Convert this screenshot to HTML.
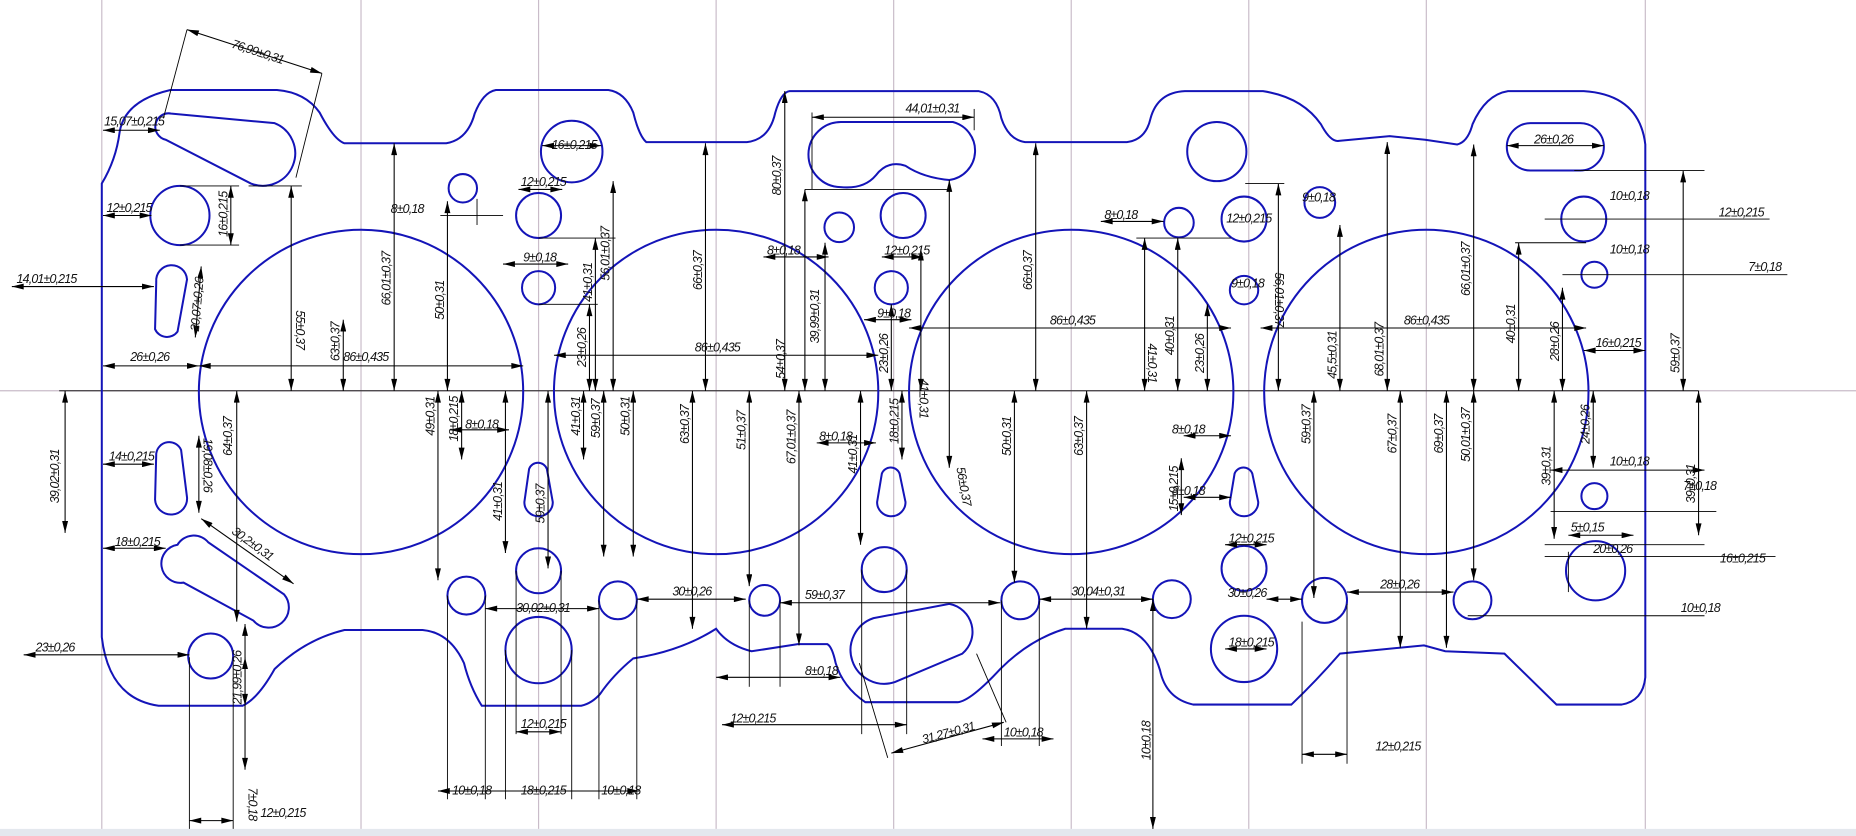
<!DOCTYPE html>
<html><head><meta charset="utf-8"><style>
html,body{margin:0;padding:0;background:#fff;}
svg{display:block;}
.g{stroke:#c9bcc9;stroke-width:1;}
.b{fill:none;stroke:#1414b8;stroke-width:1.7;}
.d{stroke:#000;stroke-width:0.9;marker-start:url(#a);marker-end:url(#a);}
.e{stroke:#000;stroke-width:0.75;}
text{font-family:"Liberation Sans",sans-serif;font-size:10.5px;font-style:italic;fill:#111;letter-spacing:-0.7px;}
</style></head><body>
<svg width="1856" height="836" viewBox="0 0 1568 706" preserveAspectRatio="none" xmlns="http://www.w3.org/2000/svg">
<defs><marker id="a" viewBox="0 0 12 6" refX="12" refY="3" markerWidth="12" markerHeight="5" orient="auto-start-reverse" markerUnits="userSpaceOnUse"><path d="M0,0 L12,3 L0,6 Z" fill="#000"/></marker></defs>
<rect width="1568" height="706" fill="#fff"/>
<rect x="0" y="700" width="1568" height="6" fill="#e4e8ee"/>
<g class="g">
<line x1="86" y1="0" x2="86" y2="700"/><line x1="305" y1="0" x2="305" y2="700"/><line x1="455" y1="0" x2="455" y2="700"/><line x1="605" y1="0" x2="605" y2="700"/><line x1="755" y1="0" x2="755" y2="700"/><line x1="905" y1="0" x2="905" y2="700"/><line x1="1055" y1="0" x2="1055" y2="700"/><line x1="1205" y1="0" x2="1205" y2="700"/><line x1="1390" y1="0" x2="1390" y2="700"/>
<line x1="0" y1="330" x2="1568" y2="330"/>
</g>
<line class="e" x1="50" y1="330" x2="1435" y2="330"/>
<path class="b" d="M86,538 L86,155 Q98,135 101,112 Q105,85 144,76 L234,76 Q258,78 270,95 Q282,118 291,121 L377,121 Q395,118 401,96 Q408,78 419,76 L514,76 Q528,78 535,95 Q540,115 546,120 L631,120 Q650,118 655,95 Q660,78 667,77 L827,77 Q842,80 846,100 Q852,118 866,120 L952,120 Q968,118 972,100 Q978,78 1001,77 L1067,77 Q1100,82 1116,105 Q1124,120 1131,119 L1174,115 L1204,118 L1231,122 Q1240,120 1244,105 Q1255,80 1274,77 L1338,77 Q1385,80 1390,122 L1390,572 Q1388,592 1370,595 L1315,595 L1271,552 L1221,550 L1203,545 L1132,552 Q1112,575 1091,595 L1008,595 Q985,590 980,566 Q970,534 948,531 L900,531 Q870,540 845,565 Q820,592 809,593 L731,593 Q712,580 706,560 Q703,546 699,544 L674,544 L635,550 Q615,545 605,531 Q575,550 535,556 Q518,570 507,586 Q500,594 491,596 L407,596 Q397,580 392,560 Q380,534 357,532 L291,532 Q258,540 232,565 Q218,590 205,596 L134,596 Q92,590 86,538 Z"/>
<g class="b">
<circle cx="305" cy="331" r="137"/><circle cx="605" cy="331" r="137"/><circle cx="905" cy="331" r="137"/><circle cx="1205" cy="331" r="137"/>
<path d="M145,96 L232,104 A26,26 0 0 1 212,155 L140,118 A11,11 0 0 1 145,96 Z"/>
<circle cx="152" cy="182" r="25"/>
<path d="M132,238 A13,13 0 0 1 158,236 L150,280 A11,11 0 0 1 131,278 Z"/>
<path d="M132,383 A11,11 0 0 1 153,380 L158,420 A13,13 0 0 1 131,422 Z"/>
<path d="M150,460 A16,16 0 0 1 176,458 L240,502 A15,15 0 0 1 214,524 L155,492 A16,16 0 0 1 150,460 Z"/>
<circle cx="178" cy="554" r="19"/>
<circle cx="391" cy="159" r="12"/><circle cx="483" cy="128" r="26"/><circle cx="455" cy="182" r="19"/><circle cx="455" cy="243" r="14"/>
<path d="M447,396 A8,8 0 0 1 462,396 L467,424 A12,12 0 0 1 443,424 Z"/>
<circle cx="455" cy="482" r="19"/><circle cx="455" cy="549" r="28"/><circle cx="394" cy="503" r="16"/><circle cx="522" cy="507" r="16"/>
<path d="M711,103 L805,103 A25,25 0 0 1 802,152 Q780,150 765,140 Q750,135 740,148 Q730,160 710,158 A27,27 0 0 1 711,103 Z"/>
<circle cx="709" cy="192" r="12.5"/><circle cx="763" cy="182" r="19"/><circle cx="753" cy="243" r="14"/>
<path d="M745,400 A8,8 0 0 1 760,400 L765,424 A12,12 0 0 1 741,424 Z"/>
<circle cx="747" cy="481" r="19"/><circle cx="646" cy="507" r="13"/>
<path d="M738,522 L802,510 A24,24 0 0 1 813,552 L756,576 A26,26 0 0 1 738,522 Z"/>
<circle cx="862" cy="507" r="16"/>
<circle cx="996" cy="188" r="12.5"/><circle cx="1051" cy="185" r="19"/><circle cx="1051" cy="245" r="12"/><circle cx="1028" cy="128" r="25"/>
<path d="M1043,400 A8,8 0 0 1 1058,400 L1063,424 A12,12 0 0 1 1039,424 Z"/>
<circle cx="1051" cy="480" r="19"/><circle cx="990" cy="506" r="16"/><circle cx="1051" cy="548" r="28"/>
<circle cx="1115" cy="171" r="13"/><circle cx="1119" cy="507" r="19"/><circle cx="1244" cy="507" r="16"/>
<path d="M1293,104 L1335,104 A20,20 0 0 1 1335,144 L1293,144 A20,20 0 0 1 1293,104 Z"/>
<circle cx="1338" cy="185" r="19"/><circle cx="1347" cy="232" r="11"/><circle cx="1347" cy="419" r="11"/><circle cx="1348" cy="482" r="25"/>
</g>
<g class="e">
<line x1="158" y1="25" x2="138" y2="100"/><line x1="272" y1="62" x2="250" y2="150"/>
<line x1="210" y1="157" x2="255" y2="157"/><line x1="152" y1="157" x2="202" y2="157"/><line x1="152" y1="207" x2="202" y2="207"/>
<line x1="372" y1="182" x2="425" y2="182"/><line x1="403" y1="168" x2="403" y2="190"/>
<line x1="455" y1="201" x2="520" y2="201"/><line x1="455" y1="257" x2="505" y2="257"/>
<line x1="680" y1="160" x2="800" y2="160"/><line x1="686" y1="95" x2="686" y2="160"/><line x1="823" y1="92" x2="823" y2="110"/>
<line x1="960" y1="201" x2="1040" y2="201"/><line x1="1052" y1="155" x2="1085" y2="155"/>
<line x1="1280" y1="205" x2="1340" y2="205"/><line x1="1330" y1="144" x2="1440" y2="144"/>
<line x1="1305" y1="460" x2="1440" y2="460"/><line x1="1100" y1="525" x2="1100" y2="645"/><line x1="1138" y1="510" x2="1138" y2="645"/>
<line x1="160" y1="555" x2="160" y2="700"/><line x1="197" y1="555" x2="197" y2="700"/>
<line x1="378" y1="503" x2="378" y2="675"/><line x1="410" y1="503" x2="410" y2="675"/><line x1="427" y1="549" x2="427" y2="675"/><line x1="483" y1="549" x2="483" y2="675"/><line x1="506" y1="507" x2="506" y2="675"/><line x1="538" y1="507" x2="538" y2="675"/>
<line x1="436" y1="482" x2="436" y2="620"/><line x1="474" y1="482" x2="474" y2="620"/>
<line x1="728" y1="481" x2="728" y2="620"/><line x1="766" y1="481" x2="766" y2="620"/>
<line x1="633" y1="507" x2="633" y2="580"/><line x1="659" y1="507" x2="659" y2="580"/>
<line x1="846" y1="507" x2="846" y2="630"/><line x1="878" y1="507" x2="878" y2="630"/>
<line x1="726" y1="560" x2="750" y2="640"/><line x1="825" y1="552" x2="850" y2="610"/>
<line x1="1325" y1="466" x2="1325" y2="500"/>
<line x1="1240" y1="520" x2="1440" y2="520"/><line x1="1305" y1="470" x2="1500" y2="470"/><line x1="1310" y1="432" x2="1450" y2="432"/>
<line x1="1305" y1="185" x2="1495" y2="185"/><line x1="1320" y1="232" x2="1510" y2="232"/>
</g>
<g class="d">
<line x1="158" y1="25" x2="272" y2="62"/>
<line x1="87" y1="110" x2="135" y2="110"/><line x1="87" y1="182" x2="128" y2="182"/>
<line x1="195" y1="157" x2="195" y2="207"/><line x1="10" y1="242" x2="130" y2="242"/>
<line x1="170" y1="225" x2="165" y2="285"/>
<line x1="87" y1="309" x2="168" y2="309"/><line x1="168" y1="309" x2="442" y2="309"/>
<line x1="246" y1="157" x2="246" y2="330"/><line x1="290" y1="270" x2="290" y2="330"/>
<line x1="333" y1="121" x2="333" y2="330"/><line x1="378" y1="170" x2="378" y2="330"/>
<line x1="438" y1="160" x2="475" y2="160"/><line x1="458" y1="123" x2="508" y2="123"/>
<line x1="518" y1="153" x2="518" y2="330"/><line x1="425" y1="223" x2="480" y2="223"/>
<line x1="503" y1="201" x2="503" y2="330"/><line x1="498" y1="257" x2="498" y2="330"/>
<line x1="468" y1="300" x2="742" y2="300"/><line x1="596" y1="121" x2="596" y2="330"/>
<line x1="663" y1="77" x2="663" y2="330"/><line x1="686" y1="99" x2="823" y2="99"/>
<line x1="645" y1="217" x2="700" y2="217"/><line x1="697" y1="205" x2="697" y2="330"/><line x1="680" y1="160" x2="680" y2="330"/>
<line x1="745" y1="217" x2="780" y2="217"/><line x1="730" y1="270" x2="770" y2="270"/>
<line x1="753" y1="257" x2="753" y2="330"/><line x1="778" y1="210" x2="778" y2="330"/><line x1="802" y1="152" x2="802" y2="395"/>
<line x1="768" y1="277" x2="1040" y2="277"/><line x1="875" y1="121" x2="875" y2="330"/>
<line x1="930" y1="187" x2="983" y2="187"/><line x1="1080" y1="155" x2="1080" y2="330"/>
<line x1="967" y1="201" x2="967" y2="330"/><line x1="995" y1="201" x2="995" y2="330"/><line x1="1020" y1="257" x2="1020" y2="330"/>
<line x1="1065" y1="277" x2="1340" y2="277"/><line x1="1132" y1="190" x2="1132" y2="330"/>
<line x1="1172" y1="120" x2="1172" y2="330"/><line x1="1245" y1="122" x2="1245" y2="330"/>
<line x1="1283" y1="205" x2="1283" y2="330"/><line x1="1320" y1="243" x2="1320" y2="330"/>
<line x1="1273" y1="123" x2="1355" y2="123"/><line x1="1338" y1="296" x2="1390" y2="296"/>
<line x1="1422" y1="144" x2="1422" y2="330"/>
<line x1="55" y1="330" x2="55" y2="450"/><line x1="200" y1="330" x2="200" y2="525"/>
<line x1="87" y1="392" x2="130" y2="392"/><line x1="168" y1="368" x2="168" y2="433"/>
<line x1="87" y1="463" x2="140" y2="463"/><line x1="170" y1="438" x2="248" y2="493"/>
<line x1="20" y1="553" x2="160" y2="553"/><line x1="207" y1="527" x2="207" y2="596"/>
<line x1="207" y1="555" x2="207" y2="650"/><line x1="160" y1="693" x2="197" y2="693"/>
<line x1="370" y1="330" x2="370" y2="490"/><line x1="390" y1="330" x2="390" y2="388"/>
<line x1="380" y1="363" x2="430" y2="363"/><line x1="427" y1="330" x2="427" y2="467"/>
<line x1="463" y1="330" x2="463" y2="480"/><line x1="493" y1="330" x2="493" y2="388"/>
<line x1="510" y1="330" x2="510" y2="470"/><line x1="535" y1="330" x2="535" y2="470"/>
<line x1="410" y1="514" x2="506" y2="514"/><line x1="436" y1="618" x2="474" y2="618"/>
<line x1="370" y1="668" x2="540" y2="668"/>
<line x1="585" y1="330" x2="585" y2="531"/><line x1="633" y1="330" x2="633" y2="495"/><line x1="675" y1="330" x2="675" y2="545"/>
<line x1="690" y1="374" x2="740" y2="374"/><line x1="762" y1="330" x2="762" y2="388"/><line x1="727" y1="330" x2="727" y2="460"/>
<line x1="538" y1="506" x2="630" y2="506"/><line x1="659" y1="509" x2="845" y2="509"/>
<line x1="605" y1="572" x2="710" y2="572"/><line x1="610" y1="612" x2="766" y2="612"/>
<line x1="753" y1="636" x2="848" y2="610"/><line x1="830" y1="624" x2="890" y2="624"/>
<line x1="857" y1="330" x2="857" y2="492"/><line x1="918" y1="330" x2="918" y2="531"/>
<line x1="878" y1="506" x2="974" y2="506"/><line x1="974" y1="506" x2="974" y2="700"/>
<line x1="1000" y1="368" x2="1040" y2="368"/><line x1="1000" y1="420" x2="1040" y2="420"/><line x1="998" y1="387" x2="998" y2="435"/>
<line x1="1035" y1="460" x2="1070" y2="460"/><line x1="1070" y1="506" x2="1100" y2="506"/><line x1="1035" y1="548" x2="1070" y2="548"/>
<line x1="1110" y1="330" x2="1110" y2="505"/><line x1="1183" y1="330" x2="1183" y2="547"/><line x1="1222" y1="330" x2="1222" y2="547"/>
<line x1="1245" y1="330" x2="1245" y2="490"/><line x1="1138" y1="500" x2="1228" y2="500"/><line x1="1100" y1="637" x2="1138" y2="637"/>
<line x1="1313" y1="330" x2="1313" y2="455"/><line x1="1346" y1="330" x2="1346" y2="395"/>
<line x1="1310" y1="397" x2="1440" y2="397"/><line x1="1435" y1="330" x2="1435" y2="452"/>
<line x1="1325" y1="452" x2="1380" y2="452"/>
</g>
<g>
<text transform="translate(195,40) rotate(18)">76,99±0,31</text>
<text x="88" y="106">15,07±0,215</text>
<text x="90" y="179">12±0,215</text>
<text transform="translate(192,200) rotate(-90)">16±0,215</text>
<text x="14" y="239">14,01±0,215</text>
<text transform="translate(168,280) rotate(-85)">20,07±0,26</text>
<text x="110" y="305">26±0,26</text>
<text transform="translate(250,262) rotate(90)">55±0,37</text>
<text transform="translate(287,305) rotate(-90)">63±0,37</text>
<text x="290" y="305">86±0,435</text>
<text transform="translate(330,258) rotate(-90)">66,01±0,37</text>
<text transform="translate(375,270) rotate(-90)">50±0,31</text>
<text x="330" y="180">8±0,18</text>
<text x="440" y="157">12±0,215</text>
<text x="466" y="126">16±0,215</text>
<text transform="translate(515,237) rotate(-90)">56,01±0,37</text>
<text x="442" y="221">9±0,18</text>
<text transform="translate(500,255) rotate(-90)">41±0,31</text>
<text transform="translate(495,310) rotate(-90)">23±0,26</text>
<text x="587" y="297">86±0,435</text>
<text transform="translate(593,245) rotate(-90)">66±0,37</text>
<text transform="translate(660,165) rotate(-90)">80±0,37</text>
<text x="765" y="95">44,01±0,31</text>
<text x="648" y="215">8±0,18</text>
<text transform="translate(692,290) rotate(-90)">39,99±0,31</text>
<text transform="translate(663,320) rotate(-90)">54±0,37</text>
<text x="747" y="215">12±0,215</text>
<text x="741" y="268">9±0,18</text>
<text transform="translate(750,315) rotate(-90)">23±0,26</text>
<text transform="translate(777,320) rotate(90)">41±0,31</text>
<text x="887" y="274">86±0,435</text>
<text transform="translate(872,245) rotate(-90)">66±0,37</text>
<text x="933" y="185">8±0,18</text>
<text x="1036" y="188">12±0,215</text>
<text x="1040" y="243">9±0,18</text>
<text x="1100" y="170">9±0,18</text>
<text transform="translate(1077,230) rotate(90)">56,01±0,37</text>
<text transform="translate(970,290) rotate(90)">41±0,31</text>
<text transform="translate(992,300) rotate(-90)">40±0,31</text>
<text transform="translate(1017,315) rotate(-90)">23±0,26</text>
<text x="1186" y="274">86±0,435</text>
<text transform="translate(1129,320) rotate(-90)">45,5±0,31</text>
<text transform="translate(1169,318) rotate(-90)">68,01±0,37</text>
<text transform="translate(1242,250) rotate(-90)">66,01±0,37</text>
<text transform="translate(1280,290) rotate(-90)">40±0,31</text>
<text transform="translate(1317,305) rotate(-90)">28±0,26</text>
<text x="1296" y="121">26±0,26</text>
<text x="1360" y="169">10±0,18</text>
<text x="1452" y="183">12±0,215</text>
<text x="1360" y="214">10±0,18</text>
<text x="1477" y="229">7±0,18</text>
<text x="1348" y="293">16±0,215</text>
<text transform="translate(1419,315) rotate(-90)">59±0,37</text>
<text transform="translate(50,425) rotate(-90)">39,02±0,31</text>
<text transform="translate(196,385) rotate(-90)">64±0,37</text>
<text x="92" y="389">14±0,215</text>
<text transform="translate(172,370) rotate(90)">19,08±0,26</text>
<text x="97" y="461">18±0,215</text>
<text transform="translate(195,450) rotate(36)">30,2±0,31</text>
<text x="30" y="550">23±0,26</text>
<text transform="translate(204,595) rotate(-90)">21,99±0,26</text>
<text transform="translate(210,665) rotate(90)">7±0,18</text>
<text x="220" y="690">12±0,215</text>
<text transform="translate(367,368) rotate(-90)">49±0,31</text>
<text transform="translate(387,373) rotate(-90)">18±0,215</text>
<text x="393" y="362">8±0,18</text>
<text transform="translate(424,440) rotate(-90)">41±0,31</text>
<text transform="translate(460,442) rotate(-90)">59±0,37</text>
<text transform="translate(490,368) rotate(-90)">41±0,31</text>
<text transform="translate(507,370) rotate(-90)">59±0,37</text>
<text transform="translate(532,368) rotate(-90)">50±0,31</text>
<text x="436" y="517">30,02±0,31</text>
<text x="440" y="615">12±0,215</text>
<text x="382" y="671">10±0,18</text>
<text x="440" y="671">18±0,215</text>
<text x="508" y="671">10±0,18</text>
<text transform="translate(582,375) rotate(-90)">63±0,37</text>
<text transform="translate(630,380) rotate(-90)">51±0,37</text>
<text transform="translate(672,392) rotate(-90)">67,01±0,37</text>
<text x="692" y="372">8±0,18</text>
<text transform="translate(759,375) rotate(-90)">18±0,215</text>
<text transform="translate(724,400) rotate(-90)">41±0,31</text>
<text x="568" y="503">30±0,26</text>
<text x="680" y="506">59±0,37</text>
<text x="680" y="570">8±0,18</text>
<text x="617" y="610">12±0,215</text>
<text transform="translate(780,628) rotate(-15)">31,27±0,31</text>
<text x="848" y="622">10±0,18</text>
<text transform="translate(808,395) rotate(80)">56±0,37</text>
<text transform="translate(854,385) rotate(-90)">50±0,31</text>
<text transform="translate(915,385) rotate(-90)">63±0,37</text>
<text x="905" y="503">30,04±0,31</text>
<text transform="translate(972,642) rotate(-90)">10±0,18</text>
<text x="990" y="366">8±0,18</text>
<text x="990" y="418">8±0,18</text>
<text transform="translate(995,432) rotate(-90)">15±0,215</text>
<text x="1038" y="458">12±0,215</text>
<text x="1037" y="504">30±0,26</text>
<text x="1038" y="546">18±0,215</text>
<text transform="translate(1107,375) rotate(-90)">59±0,37</text>
<text transform="translate(1180,383) rotate(-90)">67±0,37</text>
<text transform="translate(1219,383) rotate(-90)">69±0,37</text>
<text transform="translate(1242,390) rotate(-90)">50,01±0,37</text>
<text x="1166" y="497">28±0,26</text>
<text x="1162" y="634">12±0,215</text>
<text transform="translate(1310,410) rotate(-90)">39±0,31</text>
<text transform="translate(1343,375) rotate(-90)">24±0,26</text>
<text x="1360" y="393">10±0,18</text>
<text x="1422" y="414">7±0,18</text>
<text transform="translate(1432,425) rotate(-90)">39±0,31</text>
<text x="1327" y="449">5±0,15</text>
<text x="1346" y="467">20±0,26</text>
<text x="1453" y="475">16±0,215</text>
<text x="1420" y="517">10±0,18</text>
</g>
</svg>
</body></html>
